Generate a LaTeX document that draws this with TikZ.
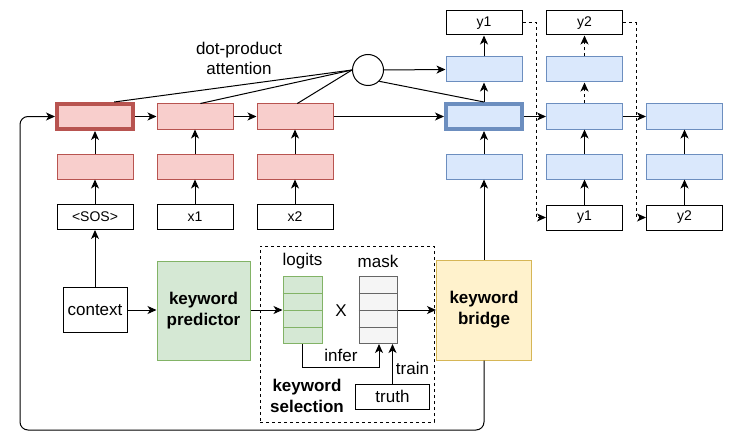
\documentclass[tikz,border=0pt]{standalone}
\usepackage{fontspec}
\setmainfont{Liberation Sans}
\usetikzlibrary{arrows.meta,calc}
\definecolor{redfill}{HTML}{F8CECC}
\definecolor{redline}{HTML}{B85450}
\definecolor{bluefill}{HTML}{DAE8FC}
\definecolor{blueline}{HTML}{6C8EBF}
\definecolor{greenfill}{HTML}{D5E8D4}
\definecolor{greenline}{HTML}{82B366}
\definecolor{yelfill}{HTML}{FFF2CC}
\definecolor{yelline}{HTML}{D6B656}
\definecolor{grayfill}{HTML}{F5F5F5}
\definecolor{grayline}{HTML}{666666}
\newcommand{\mainsize}{\fontsize{17}{20}\selectfont}
\newcommand{\boxsize}{\fontsize{14}{16}\selectfont}
\tikzset{
  cell/.style={draw, minimum width=76pt, minimum height=25pt, inner sep=0pt, line width=1pt},
  redc/.style={cell, fill=redfill, draw=redline},
  bluec/.style={cell, fill=bluefill, draw=blueline},
  txtbox/.style={cell, fill=white, draw=black, font=\boxsize},
  thickb/.style={line width=4pt},
  arr/.style={-{Stealth[length=9pt,width=8pt,inset=2.5pt]}, line width=1pt},
  dsh/.style={dash pattern=on 3pt off 3pt},
  lbl/.style={font=\mainsize, inner sep=0pt, align=center},
  blbl/.style={font=\mainsize\bfseries, inner sep=0pt, align=center},
}
\begin{document}
\begin{tikzpicture}[x=1pt,y=-1pt]
\useasboundingbox (0,0) rectangle (735,441);

% red encoder
\node[redc, thickb] (r1) at (95,116.5) {};
\node[redc] (r2) at (195,116.5) {};
\node[redc] (r3) at (295,116.5) {};
\node[redc] (e1) at (95,166.5) {};
\node[redc] (e2) at (195,166.5) {};
\node[redc] (e3) at (295,166.5) {};
\node[txtbox] (sos) at (95,217) {<SOS>};
\node[txtbox] (x1) at (195,217) {x1};
\node[txtbox] (x2) at (295,217) {x2};

% blue decoder
\node[bluec] (b1t) at (484,69.5) {};
\node[bluec, thickb, draw=blueline] (b1m) at (484,116.5) {};
\node[bluec] (b1b) at (484,166.5) {};
\node[txtbox, minimum height=24pt] (o1) at (484,23) {y1};
\node[bluec] (b2t) at (584.5,69.5) {};
\node[bluec] (b2m) at (584.5,116.5) {};
\node[bluec] (b2b) at (584.5,166.5) {};
\node[txtbox, minimum height=24pt] (o2) at (584.5,23) {y2};
\node[txtbox] (i1) at (584.5,217.5) {y1};
\node[bluec] (b3m) at (684.5,116.5) {};
\node[bluec] (b3b) at (684.5,166.5) {};
\node[txtbox] (i2) at (684.5,217.5) {y2};

% attention
\node[circle, draw, line width=1pt, minimum size=31pt, inner sep=0pt] (att) at (368,70) {};
\node[lbl] (attl) at (239,58.5) {dot-product\\attention};

\draw[line width=1pt] (att.west) -- ($(r1.north west)!0.74!(r1.north east)$);
\draw[line width=1pt] (att.west) -- ($(r2.north west)!0.57!(r2.north east)$);
\draw[line width=1pt] (att.west) -- ($(r3.north west)!0.53!(r3.north east)$);
\draw[line width=1pt] (att.-45) -- (b1m.north);
\draw[arr] (att.east) -- (b1t.west);

% encoder arrows
\draw[arr] (sos) -- (e1);
\draw[arr] (e1) -- (r1);
\draw[arr] (x1) -- (e2);
\draw[arr] (e2) -- (r2);
\draw[arr] (x2) -- (e3);
\draw[arr] (e3) -- (r3);
\draw[arr] (r1) -- (r2);
\draw[arr] (r2) -- (r3);
\draw[arr] (r3) -- (b1m);

% decoder arrows
\draw[arr] (b1b) -- (b1m);
\draw[arr] (b1m) -- (b1t);
\draw[arr] (b1t) -- (o1);
\draw[arr] (b1m) -- (b2m);
\draw[arr] (b2m) -- (b3m);
\draw[arr] (i1) -- (b2b);
\draw[arr] (b2b) -- (b2m);
\draw[arr, dsh] (b2m) -- (b2t);
\draw[arr, dsh] (b2t) -- (o2);
\draw[arr] (i2) -- (b3b);
\draw[arr] (b3b) -- (b3m);
\draw[arr, dsh] (o1.east) -| ($(i1.west)+(-10,0)$) -- (i1.west);
\draw[arr, dsh] (o2.east) -| ($(i2.west)+(-10,0)$) -- (i2.west);

% bottom part
\node[draw, line width=1pt, minimum width=64pt, minimum height=45pt, inner sep=0pt, font=\mainsize] (ctx) at (95,310) {context};
\node[draw=greenline, fill=greenfill, line width=1pt, minimum width=93pt, minimum height=99pt, blbl] (kp) at (203.5,310.5) {keyword\\[1pt]predictor};
\node[draw, dsh, line width=1pt, minimum width=174pt, minimum height=176pt] (sel) at (347,334) {};
\node[draw=greenline, fill=greenfill, line width=1pt, minimum width=39pt, minimum height=67pt, inner sep=0pt] (lg) at (302.5,310) {};
\node[draw=grayline, fill=grayfill, line width=1pt, minimum width=38pt, minimum height=67pt, inner sep=0pt] (mk) at (378,310) {};
\foreach \f in {0.25,0.5,0.75}{
  \draw[greenline, line width=1pt] ($(lg.north west)!\f!(lg.south west)$) -- ($(lg.north east)!\f!(lg.south east)$);
  \draw[grayline, line width=1pt] ($(mk.north west)!\f!(mk.south west)$) -- ($(mk.north east)!\f!(mk.south east)$);
}
\node[draw=yelline, fill=yelfill, line width=1pt, minimum width=95pt, minimum height=100pt, blbl] (kb) at (484,310) {keyword\\[1pt]bridge};
\node[draw, line width=1pt, minimum width=74pt, minimum height=25pt, inner sep=0pt, font=\mainsize] (tr) at (392.5,396.5) {truth};

\node[lbl] (lgl) at (302.5,261) {logits};
\node[lbl] (mkl) at (378,261) {mask};
\node[lbl] (xl) at (341,311) {X};
\node[lbl] (infl) at (341,355) {infer};
\node[lbl] (trl) at (412.5,368) {train};
\node[blbl] (sell) at (307,396) {keyword\\[1pt]selection};

\draw[arr] (ctx) -- (sos);
\draw[arr] (ctx.east) -- (ctx.east -| kp.west);
\draw[arr] (kp.east |- lg.west) -- (lg.west);
\draw[arr] (mk.east) -- (mk.east -| kb.west);
\draw[arr] (lg.south) -- ++(0,23) -| ($(mk.south)+(1,0)$);
\draw[arr] (tr.north) -- (tr.north |- mk.south);
\draw[arr] (kb) -- (b1b);

\coordinate (lb) at (20,430);
\draw[arr, rounded corners=8pt] (kb.south) |- (lb) |- (r1.west);
\end{tikzpicture}
\end{document}
